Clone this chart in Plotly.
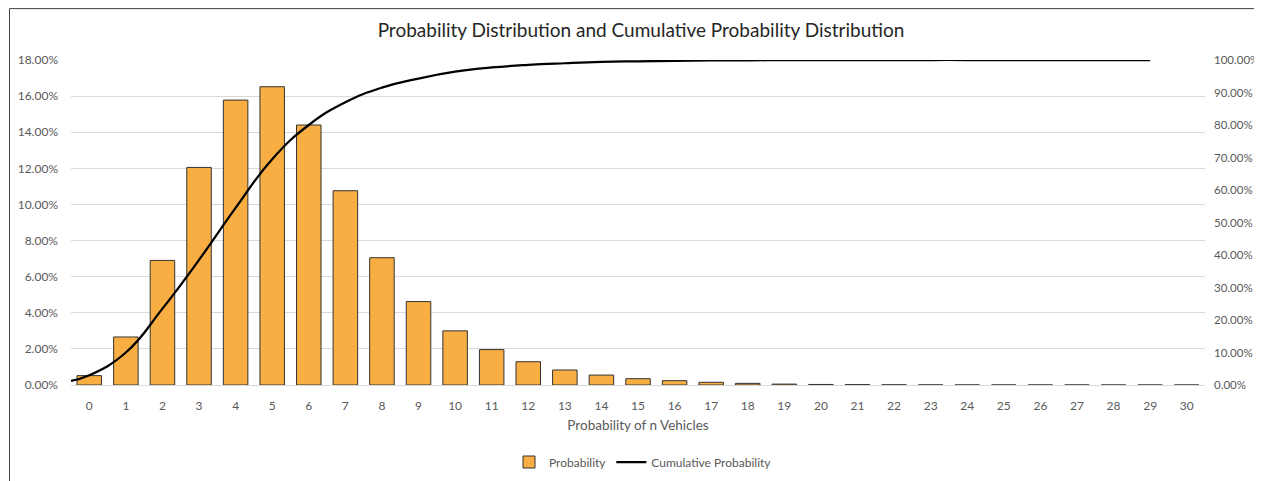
import plotly.graph_objects as go

# ---- data ----
categories = list(range(0, 31))
probability = [0.0052, 0.0266, 0.0690, 0.1205, 0.1578, 0.1652, 0.1440, 0.1076, 0.0705, 0.0462,
               0.0300, 0.0196, 0.0129, 0.0083, 0.0055, 0.0035, 0.0024, 0.0015, 0.0009, 0.0005,
               0.0003, 0.0002, 0.0001, 0.00005, 0.00003, 0.00002, 0.00001, 0.00001, 0.0, 0.0, 0.0]

cum_x = [-0.5] + list(range(0, 30))
cumulative = [0.013, 0.030, 0.100, 0.235, 0.385, 0.545, 0.695, 0.800, 0.870, 0.915, 0.943,
              0.964, 0.977, 0.985, 0.990, 0.994, 0.996, 0.9975, 0.9985, 0.999, 0.9995,
              0.9997, 0.9998, 0.9999, 1.0, 1.0, 1.0, 1.0, 1.0, 1.0, 1.0]

left_ticks = [i * 0.02 for i in range(10)]
right_ticks = [i * 0.1 for i in range(11)]

FONT = "Lato"
TXT = "#595959"

# page body has an 8px margin; figure is sized/offset to compensate
W, H = 1254, 473
PL, PT, PR, PB = 71 - 8, 60 - 8, 1205 - 8, 385 - 8   # plot area in figure pixels

fig = go.Figure()
fig.add_trace(go.Bar(
    x=categories, y=probability, name="Probability",
    marker=dict(color="#F9AE44", line=dict(color="#333333", width=1)),
    width=0.67,
))
fig.add_trace(go.Scatter(
    x=cum_x, y=cumulative, name="Cumulative Probability", yaxis="y2",
    mode="lines", line=dict(color="black", width=2.25, shape="spline", smoothing=1.3),
))

pw, ph = PR - PL, PB - PT

def px_to_paper_x(px):
    return (px - 8 - PL) / pw

def px_to_paper_y(py):
    return (PB - (py - 8)) / ph

border = dict(color="#404040", width=1)

fig.update_layout(
    width=W, height=H,
    margin=dict(l=PL, r=W - PR, t=PT, b=H - PB, autoexpand=False),
    paper_bgcolor="white", plot_bgcolor="white",
    font=dict(family=FONT, size=12, color=TXT),
    title=dict(text="Probability Distribution and Cumulative Probability Distribution",
               x=px_to_paper_x(641), xref="paper", xanchor="center",
               y=1 - (30 - 8) / H, yanchor="middle",
               font=dict(family=FONT, size=19, color="#262626")),
    xaxis=dict(range=[-0.5, 30.5], tickmode="array", tickvals=categories,
               ticktext=[str(c) for c in categories], showgrid=False, automargin=False,
               showline=True, linecolor="#d9d9d9", linewidth=1, zeroline=False,
               ticks="", ticklabelstandoff=10, tickfont=dict(size=12, color=TXT),
               title=dict(text="Probability of n Vehicles", standoff=8,
                          font=dict(size=13.5, color=TXT))),
    yaxis=dict(range=[0, 0.18], tickmode="array", tickvals=left_ticks, automargin=False,
               tickformat=".2%", showgrid=True, gridcolor="#d9d9d9", gridwidth=1,
               zeroline=False, ticks="", ticklabelstandoff=12,
               tickfont=dict(size=12, color=TXT)),
    yaxis2=dict(range=[0, 1.0], tickmode="array", tickvals=right_ticks, automargin=False,
                tickformat=".2%", overlaying="y", side="right", showgrid=False,
                zeroline=False, ticks="", ticklabelstandoff=8,
                tickfont=dict(size=11.5, color=TXT)),
    legend=dict(orientation="h", x=px_to_paper_x(643), xanchor="center",
                y=px_to_paper_y(462), yanchor="middle",
                font=dict(size=12, color=TXT), bgcolor="rgba(0,0,0,0)"),
    bargap=0.33,
    showlegend=True,
    shapes=[
        dict(type="line", xref="paper", yref="paper",
             x0=px_to_paper_x(9.5), x1=px_to_paper_x(1300),
             y0=px_to_paper_y(8.6), y1=px_to_paper_y(8.6), line=border, layer="below"),
        dict(type="line", xref="paper", yref="paper",
             x0=px_to_paper_x(9.5), x1=px_to_paper_x(9.5),
             y0=px_to_paper_y(8.6), y1=px_to_paper_y(520), line=border, layer="below"),
    ],
)

fig.write_html("out.html")
